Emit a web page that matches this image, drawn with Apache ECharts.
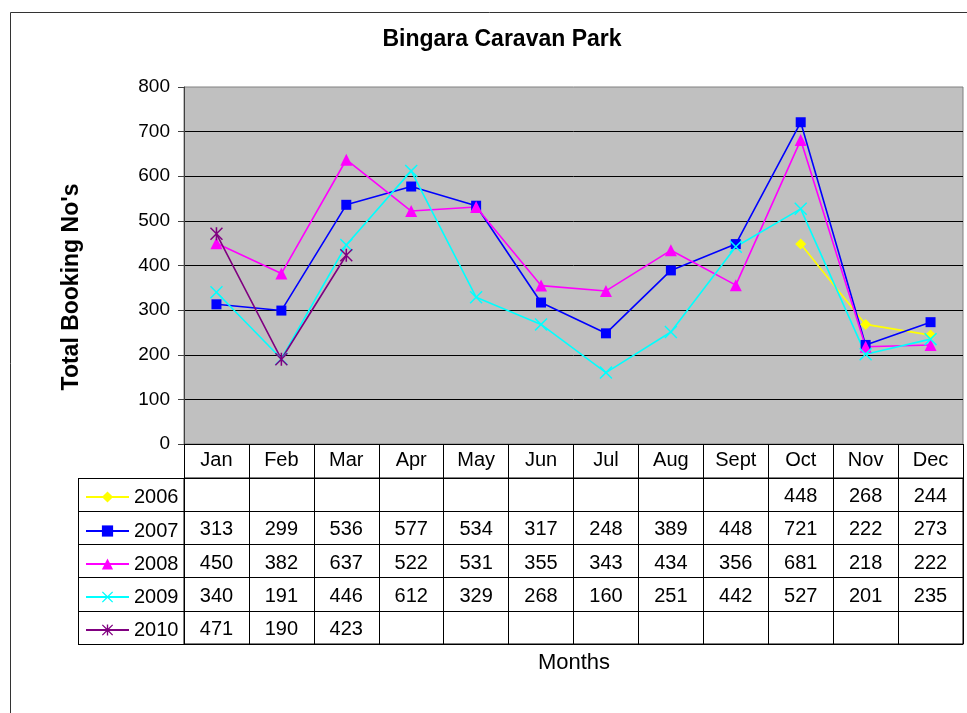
<!DOCTYPE html>
<html>
<head>
<meta charset="utf-8">
<script src="https://cdn.jsdelivr.net/npm/echarts@6/dist/echarts.min.js"></script>
<style>
  html, body { margin: 0; padding: 0; background: #fff; }
  #chart { width: 967px; height: 713px; }
</style>
</head>
<body>
<div id="chart"></div>
<script>
var months = ['Jan', 'Feb', 'Mar', 'Apr', 'May', 'Jun', 'Jul', 'Aug', 'Sept', 'Oct', 'Nov', 'Dec'];
var years = ['2006', '2007', '2008', '2009', '2010'];
var yTicks = [0, 100, 200, 300, 400, 500, 600, 700, 800];

var data2006 = [null, null, null, null, null, null, null, null, null, 448, 268, 244];
var data2007 = [313, 299, 536, 577, 534, 317, 248, 389, 448, 721, 222, 273];
var data2008 = [450, 382, 637, 522, 531, 355, 343, 434, 356, 681, 218, 222];
var data2009 = [340, 191, 446, 612, 329, 268, 160, 251, 442, 527, 201, 235];
var data2010 = [471, 190, 423, null, null, null, null, null, null, null, null, null];

var seriesData = [data2006, data2007, data2008, data2009, data2010];
var colors = ['#ffff00', '#0000ff', '#ff00ff', '#00ffff', '#800080'];

// x mark and asterisk drawn as filled paths
var crossPath = 'path://M0,0.8L0.8,0L5,4.2L9.2,0L10,0.8L5.8,5L10,9.2L9.2,10L5,5.8L0.8,10L0,9.2L4.2,5Z';
var starPath = 'path://M0,0.8L0.8,0L5,4.2L9.2,0L10,0.8L5.8,5L10,9.2L9.2,10L5,5.8L0.8,10L0,9.2L4.2,5Z' +
               'M4.4,0L5.6,0L5.6,10L4.4,10Z';
var symbols = ['diamond', 'rect', 'triangle', crossPath, starPath];
var symbolSizes = [11, 10, 12, 13, 13];

var FONT = '"Liberation Sans", Arial, sans-serif';

var chart = echarts.init(document.getElementById('chart'));

var lineSeries = years.map(function (y, i) {
    return {
        name: y,
        type: 'line',
        xAxisIndex: 0,
        yAxisIndex: 0,
        data: seriesData[i],
        connectNulls: false,
        symbol: symbols[i],
        symbolSize: symbolSizes[i],
        showAllSymbol: true,
        lineStyle: { color: colors[i], width: 1.6 },
        itemStyle: { color: colors[i], borderWidth: 0 },
        emphasis: { disabled: true },
        animation: false
    };
});

// cell values for the table below the plot
var tableCells = [];
seriesData.forEach(function (arr, yi) {
    arr.forEach(function (v, mi) {
        if (v !== null) tableCells.push([mi, yi, v]);
    });
});

var rowCenters = [494, 528, 561, 594, 627];
var legends = years.map(function (y, i) {
    return {
        data: [y],
        left: 85,
        top: rowCenters[i] - 7,
        padding: 0,
        itemWidth: 43,
        itemHeight: 14,
        itemGap: 0,
        selectedMode: false,
        textStyle: { fontSize: 20, color: '#000', fontFamily: FONT }
    };
});

var option = {
    animation: false,
    textStyle: { fontFamily: FONT },
    title: {
        text: 'Bingara Caravan Park',
        left: 497,
        textAlign: 'center',
        top: 23,
        textStyle: { fontSize: 23, fontWeight: 'bold', color: '#000', fontFamily: FONT }
    },
    legend: legends,
    grid: [
        {
            left: 184, top: 87, width: 779, height: 357,
            show: true, backgroundColor: '#c0c0c0', borderColor: '#808080', borderWidth: 1
        },
        {
            left: 184, top: 478, width: 779, height: 166,
            show: true, backgroundColor: 'transparent', borderColor: '#000', borderWidth: 1
        }
    ],
    xAxis: [
        {
            type: 'category',
            gridIndex: 0,
            data: months,
            boundaryGap: true,
            axisLine: { lineStyle: { color: '#000', width: 1 } },
            axisTick: { show: true, length: 34, interval: 0, lineStyle: { color: '#000' } },
            axisLabel: { fontSize: 20, color: '#000', margin: 6, interval: 0 },
            splitLine: { show: false }
        },
        {
            type: 'category',
            gridIndex: 1,
            data: months,
            boundaryGap: true,
            axisLine: { show: true, lineStyle: { color: '#000' } },
            axisTick: { show: false },
            axisLabel: { show: false },
            splitLine: { show: true, interval: 0, lineStyle: { color: '#000', width: 1 } }
        }
    ],
    yAxis: [
        {
            type: 'value',
            gridIndex: 0,
            min: yTicks[0],
            max: yTicks[yTicks.length - 1],
            interval: 100,
            axisLine: { show: true, lineStyle: { color: '#404040', width: 1 } },
            axisTick: { show: true, length: 6, lineStyle: { color: '#404040' } },
            axisLabel: { fontSize: 19, color: '#000', margin: 14 },
            splitLine: { show: true, showMaxLine: false, lineStyle: { color: '#000', width: 1 } }
        },
        {
            type: 'category',
            gridIndex: 1,
            data: years,
            inverse: true,
            axisLine: { show: true, lineStyle: { color: '#000' } },
            axisTick: { show: true, length: 106, interval: 0, lineStyle: { color: '#000' } },
            axisLabel: { show: false },
            splitLine: { show: true, interval: 0, lineStyle: { color: '#000', width: 1 } }
        }
    ],
    graphic: [
        {
            type: 'rect',
            shape: { x: 10.5, y: 12.5, width: 1000, height: 800 },
            style: { fill: 'none', stroke: '#333', lineWidth: 1 },
            silent: true, z: -10
        },
        {
            type: 'line',
            shape: { x1: 78.5, y1: 478, x2: 78.5, y2: 644 },
            style: { stroke: '#000', lineWidth: 1 },
            silent: true
        },
        {
            type: 'text',
            x: 72, y: 287,
            rotation: Math.PI / 2,
            style: {
                text: "Total Booking No's",
                fontSize: 23, fontWeight: 'bold', fill: '#000', fontFamily: FONT,
                align: 'center', verticalAlign: 'middle'
            }
        },
        {
            type: 'text',
            x: 574, y: 663,
            style: {
                text: 'Months',
                fontSize: 22, fill: '#000', fontFamily: FONT,
                align: 'center', verticalAlign: 'middle'
            }
        }
    ],
    series: lineSeries.concat([
        {
            name: 'table',
            type: 'custom',
            coordinateSystem: 'cartesian2d',
            xAxisIndex: 1,
            yAxisIndex: 1,
            data: tableCells,
            silent: true,
            renderItem: function (params, api) {
                var pt = api.coord([api.value(0), api.value(1)]);
                return {
                    type: 'text',
                    x: pt[0],
                    y: pt[1] + 2,
                    style: {
                        text: String(api.value(2)),
                        fontSize: 20,
                        fontFamily: FONT,
                        fill: '#000',
                        align: 'center',
                        verticalAlign: 'middle'
                    }
                };
            }
        }
    ])
};

chart.setOption(option);
</script>
</body>
</html>
